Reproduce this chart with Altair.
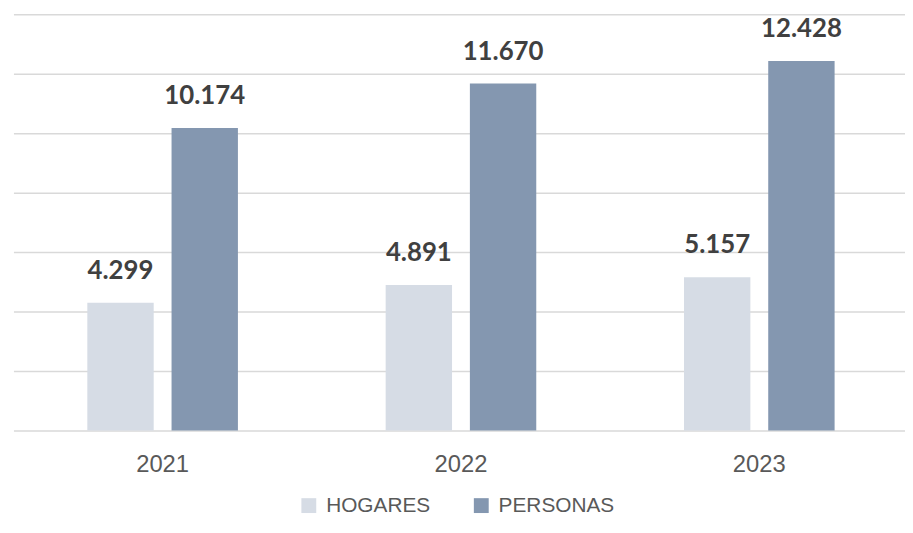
import altair as alt
import pandas as pd

years = ["2021", "2022", "2023"]
series = ["HOGARES", "PERSONAS"]
hogares = [4299, 4891, 5157]
personas = [10174, 11670, 12428]
colors = ["#D6DCE5", "#8497B0"]

rows = []
for i, y in enumerate(years):
    for s, vals in zip(series, [hogares, personas]):
        v = vals[i]
        rows.append({"year": y, "serie": s, "value": v,
                     "label": f"{v:,}".replace(",", ".")})
df = pd.DataFrame(rows)

sans = "Liberation Sans, Arial, sans-serif"

x = alt.X("year:N", title=None,
          scale=alt.Scale(paddingInner=0, paddingOuter=0, range=[-1.5, 901.5]),
          axis=alt.Axis(labelAngle=0, domain=False, ticks=False, labelFont=sans,
                        labelFontSize=24, labelColor="#595959", labelPadding=22))
xo = alt.XOffset("serie:N", sort=series,
                 scale=alt.Scale(paddingInner=0.212, paddingOuter=0.877))
y = alt.Y("value:Q", title=None,
          scale=alt.Scale(domain=[0, 14000], nice=False),
          axis=alt.Axis(values=list(range(0, 14001, 2000)), labels=False, ticks=False,
                        domain=False, grid=True, gridColor="#D9D9D9", gridWidth=1.5))

bars = alt.Chart(df).mark_bar().encode(
    x=x, xOffset=xo, y=y,
    color=alt.Color("serie:N", sort=series, title=None,
                    scale=alt.Scale(domain=series, range=colors),
                    legend=alt.Legend(orient="none", legendX=286, legendY=485,
                                      direction="horizontal", symbolType="square",
                                      symbolSize=225, symbolStrokeWidth=0,
                                      labelFont=sans, labelFontSize=21,
                                      labelColor="#595959", columnPadding=40,
                                      labelOffset=7)),
)

text = alt.Chart(df).mark_text(baseline="bottom", dy=-19, font="Lato",
                               fontWeight="bold", fontSize=26, color="#404040").encode(
    x=x, xOffset=xo, y=y, text="label:N")

chart = alt.layer(bars, text).properties(
    width=898, height=420,
    autosize=alt.AutoSizeParams(type="none"),
    padding={"left": 7, "top": 4, "right": 0, "bottom": 89},
).configure_view(stroke=None)

chart.save("out.html", embed_options={"renderer": "svg", "actions": False})
